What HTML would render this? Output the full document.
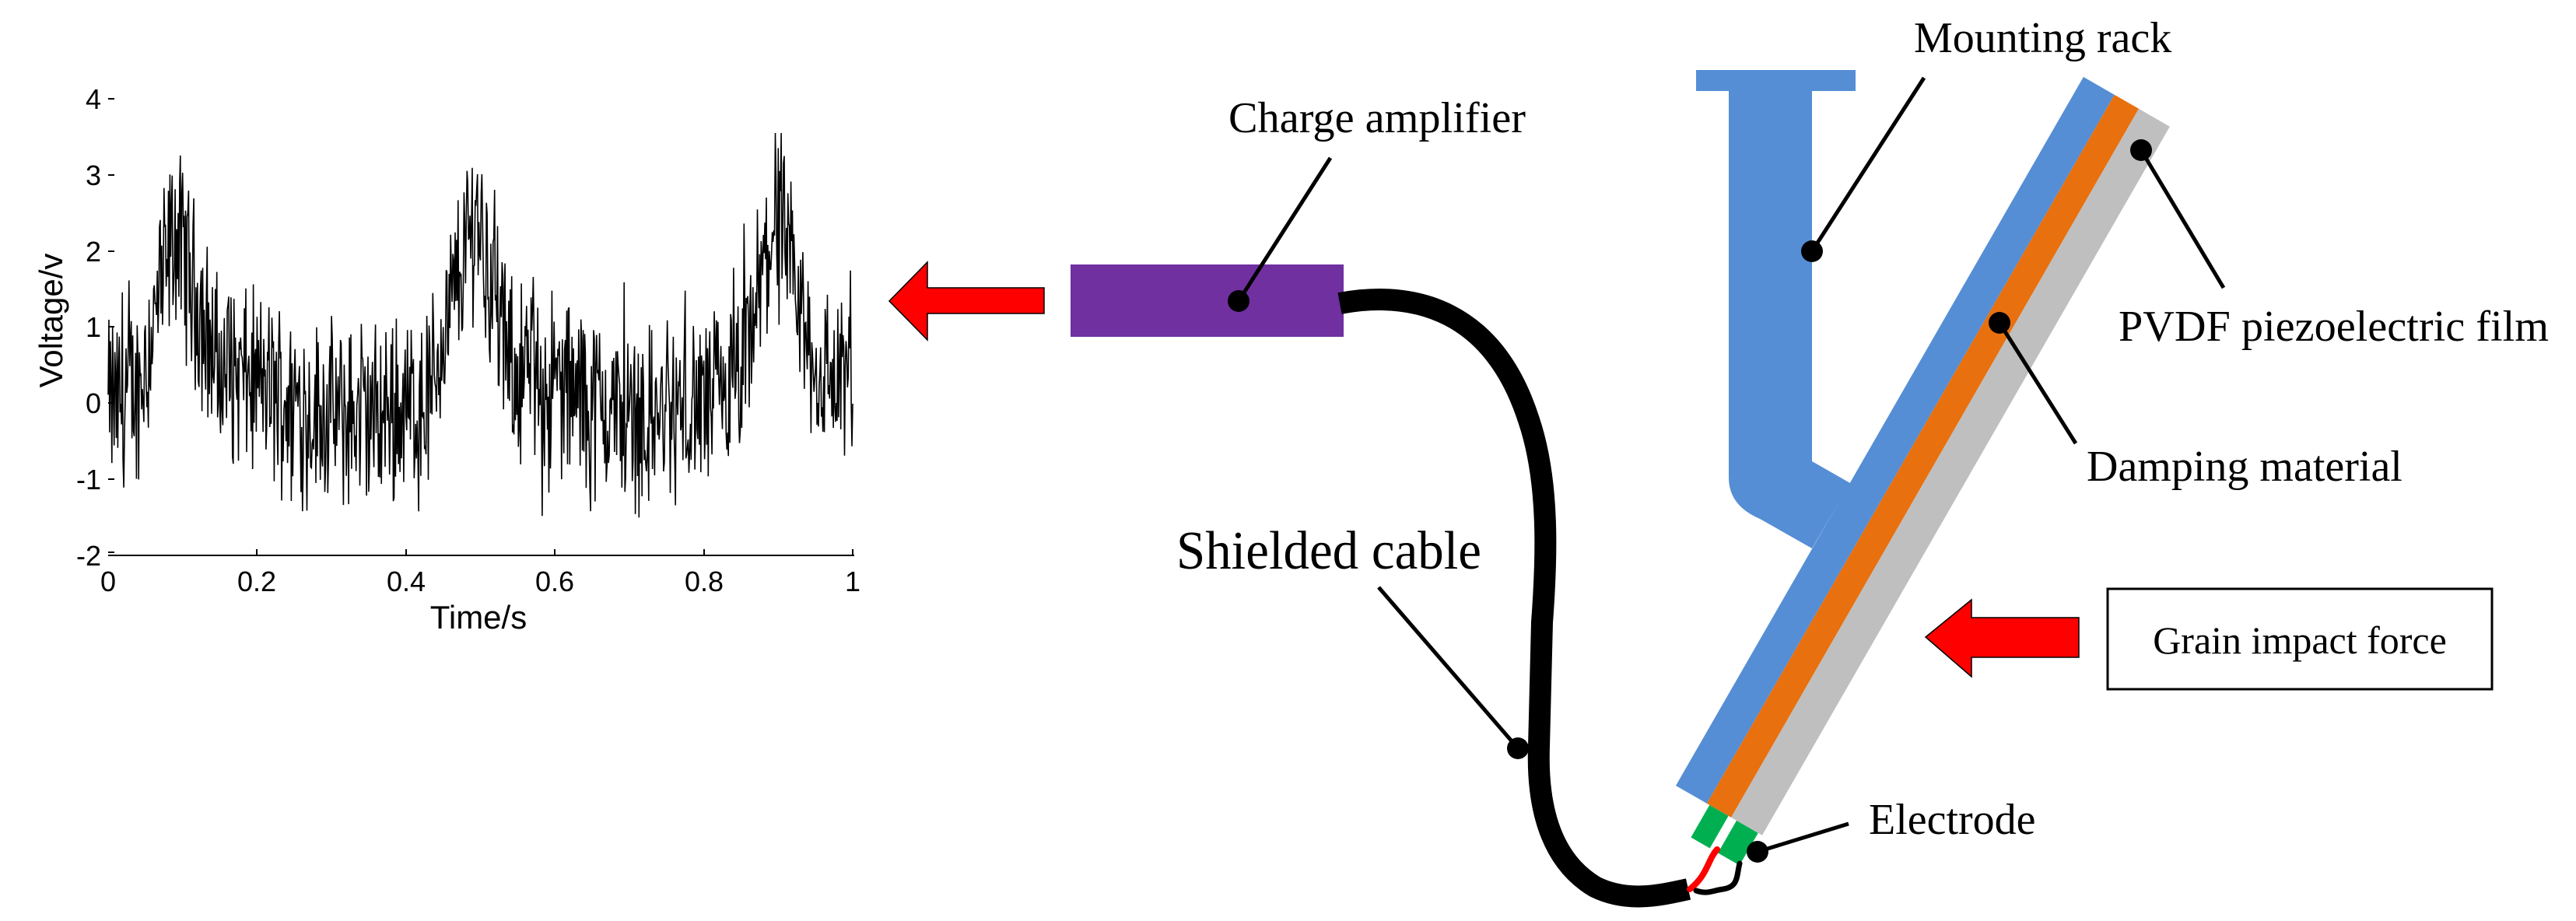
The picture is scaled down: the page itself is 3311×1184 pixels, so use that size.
<!DOCTYPE html>
<html><head><meta charset="utf-8"><style>
html,body{margin:0;padding:0;background:#fff;}
svg{display:block;}
.t{font-family:"Liberation Serif",serif;fill:#000;}
.a{font-family:"Liberation Sans",sans-serif;fill:#000;}
</style></head><body>
<svg id="s" width="3311" height="1184" viewBox="0 0 3311 1184" xmlns="http://www.w3.org/2000/svg">
<rect width="3311" height="1184" fill="#fff"/>
<g id="plot">
<line x1="139" y1="714" x2="1098" y2="714" stroke="#000" stroke-width="2"/>
<g stroke="#000" stroke-width="2">
<line x1="139" y1="127" x2="147" y2="127"/><line x1="139" y1="225" x2="147" y2="225"/><line x1="139" y1="323" x2="147" y2="323"/><line x1="139" y1="420" x2="147" y2="420"/><line x1="139" y1="518" x2="147" y2="518"/><line x1="139" y1="616" x2="147" y2="616"/><line x1="139" y1="710" x2="147" y2="710"/>
<line x1="330" y1="714" x2="330" y2="706"/><line x1="522" y1="714" x2="522" y2="706"/><line x1="713" y1="714" x2="713" y2="706"/><line x1="905" y1="714" x2="905" y2="706"/><line x1="1096" y1="714" x2="1096" y2="706"/>
</g>
<g class="a" font-size="36" text-anchor="end">
<text x="130" y="140">4</text><text x="130" y="238">3</text><text x="130" y="336">2</text><text x="130" y="433">1</text><text x="130" y="531">0</text><text x="130" y="629">-1</text><text x="130" y="727">-2</text>
</g>
<g class="a" font-size="36" text-anchor="middle">
<text x="139" y="760">0</text><text x="330" y="760">0.2</text><text x="522" y="760">0.4</text><text x="713" y="760">0.6</text><text x="905" y="760">0.8</text><text x="1096" y="760">1</text>
</g>
<text class="a" font-size="42" x="615" y="808" text-anchor="middle">Time/s</text>
<text class="a" font-size="42" transform="translate(80,412) rotate(-90)" text-anchor="middle">Voltage/v</text>
<path id="sig" fill="none" stroke="#000" stroke-width="1.6" d=""/>
</g>
<polygon points="1143,387 1192,337 1192,370 1342,370 1342,403 1192,403 1192,437" fill="#f00" stroke="#000" stroke-width="1.5"/>
<rect x="1376" y="340" width="351" height="93" fill="#7030A0"/>
<path d="M1722,390 C1820,372 1920,400 1965,540 C1992,620 1988,720 1982,800 L1978,960 C1975,1050 2000,1110 2050,1140 C2090,1160 2130,1152 2170,1143" fill="none" stroke="#000" stroke-width="28"/>
<path d="M2180,90 L2385,90 L2385,117 L2329,117 L2329,593 L2378,621 L2329,705 L2262,667 Q2222,650 2222,614 L2222,117 L2180,117 Z" fill="#558ED5"/>
<g transform="translate(2154,1010) rotate(-60.1)">
<rect x="0" y="0" width="1051" height="46" fill="#558ED5"/>
<rect x="0" y="46" width="1051" height="36" fill="#E8700E"/>
<rect x="0" y="82" width="1051" height="46" fill="#BFBFBF"/>
<rect x="-48" y="50" width="48" height="28" fill="#00B050"/>
<rect x="-48" y="90" width="48" height="32" fill="#00B050"/>
</g>
<path d="M2207,1092 C2195,1105 2195,1125 2172,1143" fill="none" stroke="#f00" stroke-width="8" stroke-linecap="round"/>
<path d="M2236,1110 C2232,1125 2235,1140 2215,1143 C2200,1145 2195,1150 2180,1145" fill="none" stroke="#000" stroke-width="7" stroke-linecap="round"/>
<polygon points="2475,819 2534,771 2534,794 2672,794 2672,845 2534,845 2534,870" fill="#f00" stroke="#000" stroke-width="1.5"/>
<rect x="2709" y="757" width="494" height="129" fill="none" stroke="#000" stroke-width="3"/>
<text class="t" font-size="50" x="2956" y="840" text-anchor="middle">Grain impact force</text>
<g stroke="#000" stroke-width="5">
<line x1="1592" y1="387" x2="1710" y2="203"/>
<line x1="1951" y1="962" x2="1772" y2="755"/>
<line x1="2329" y1="323" x2="2473" y2="100"/>
<line x1="2570" y1="415" x2="2668" y2="570"/>
<line x1="2752" y1="193" x2="2858" y2="370"/>
<line x1="2259" y1="1095" x2="2376" y2="1059"/>
</g>
<g fill="#000">
<ellipse cx="1592" cy="387" rx="14" ry="14"/>
<ellipse cx="1951" cy="962" rx="14" ry="14"/>
<ellipse cx="2329" cy="323" rx="14" ry="14"/>
<ellipse cx="2570" cy="415" rx="14" ry="14"/>
<ellipse cx="2752" cy="193" rx="14" ry="14"/>
<ellipse cx="2259" cy="1095" rx="14" ry="14"/>
</g>
<text class="t" font-size="56" x="1579" y="170" textLength="382" lengthAdjust="spacingAndGlyphs">Charge amplifier</text>
<text class="t" font-size="70" x="1512" y="731" textLength="392" lengthAdjust="spacingAndGlyphs">Shielded cable</text>
<text class="t" font-size="56" x="2460" y="67">Mounting rack</text>
<text class="t" font-size="56" x="2723" y="438" textLength="553" lengthAdjust="spacingAndGlyphs">PVDF piezoelectric film</text>
<text class="t" font-size="56" x="2682" y="618">Damping material</text>
<text class="t" font-size="56" x="2402" y="1072">Electrode</text>
</svg>
<script>
(function(){
var seed=12345;function r(){seed=(seed*1103515245+12345)%2147483648;return seed/2147483648;}
function base(t){
 var v=0.1;
 function pk(t0,t1,t2,h){ if(t<t0||t>t2) return 0; if(t<t1) return h*(t-t0)/(t1-t0); return h*(1-(t-t1)/(t2-t1)); }
 v+=pk(0.04,0.09,0.15,1.9);
 v+=pk(0.43,0.495,0.54,2.2);
 v+=pk(0.85,0.895,0.95,2.1);
 v+=0.3*Math.sin(t*2*Math.PI*2.5-0.5);
 return v;}
var d="";var N=1000;
for(var i=0;i<=N;i++){var t=i/N;var n=(r()-0.5)*2.0+(r()-0.5)*0.8;
 if(r()<0.05)n*=1.7;
 var v=base(t)+n;
 if(v>3.55)v=3.55;if(v<-1.8)v=-1.8;
 var x=139+t*957,y=127+(4-v)*97.8;d+=(i?"L":"M")+x.toFixed(1)+","+y.toFixed(1);}
document.getElementById("sig").setAttribute("d",d);
})();
</script>
</body></html>
